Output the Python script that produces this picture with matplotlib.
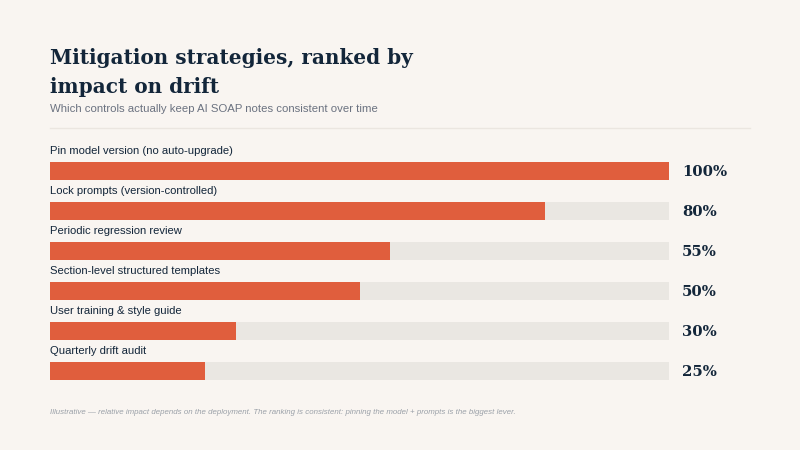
import matplotlib.pyplot as plt
from matplotlib.lines import Line2D

# данные
strategies = [
    "Pin model version (no auto-upgrade)",
    "Lock prompts (version-controlled)",
    "Periodic regression review",
    "Section-level structured templates",
    "User training & style guide",
    "Quarterly drift audit",
]
impact = [100, 80, 55, 50, 30, 25]

bg = "#f9f5f1"
navy = "#13263a"
orange = "#e05e3d"
track = "#eae7e2"
grey = "#6b7280"
sans = "Liberation Sans"

W, H = 800, 450
fig = plt.figure(figsize=(8, 4.5), dpi=100, facecolor=bg)

# заголовок и подзаголовок
fig.text(50 / W, 1 - 58 / H, "Mitigation strategies, ranked by", fontsize=14.4,
         family="DejaVu Serif", weight="bold", color=navy, va="center")
fig.text(50 / W, 1 - 87 / H, "impact on drift", fontsize=14.4,
         family="DejaVu Serif", weight="bold", color=navy, va="center")
fig.text(50 / W, 1 - 109 / H, "Which controls actually keep AI SOAP notes consistent over time",
         fontsize=8.2, family=sans, color=grey, va="center")
fig.add_artist(Line2D([50 / W, 750 / W], [1 - 128 / H, 1 - 128 / H],
                      color="#ebe6e0", lw=1))

# область графика: строки с центрами 171, 211, ... 371 px
ax = fig.add_axes([50 / W, 1 - 391 / H, 619 / W, 260 / H])
ax.set_facecolor(bg)
ax.set_xlim(0, 100)
ax.set_ylim(5.5, -1.0)
ax.axis("off")

rows = range(len(strategies))
ax.barh(rows, [100] * len(strategies), height=0.47, color=track)
ax.barh(rows, impact, height=0.47, color=orange)

for i, (name, v) in enumerate(zip(strategies, impact)):
    ax.text(0, i - 0.5, name, fontsize=8.1, family=sans, color=navy, va="center", ha="left")
    ax.text(102.1, i + 0.02, f"{v}%", fontsize=10.6, family="DejaVu Serif", weight="bold",
            color=navy, va="center", ha="left", clip_on=False)

fig.text(50 / W, 1 - 412 / H,
         "Illustrative — relative impact depends on the deployment. The ranking is consistent: "
         "pinning the model + prompts is the biggest lever.",
         fontsize=5.7, family=sans, style="italic", color="#9aa0a8", va="center")

fig.savefig("out.png", dpi=100, facecolor=bg)
